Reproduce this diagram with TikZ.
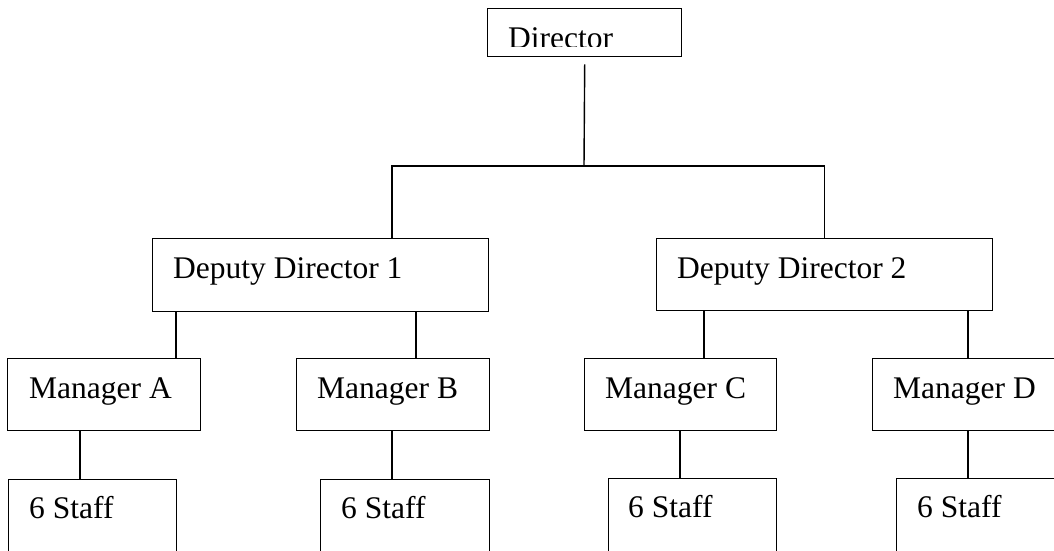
\documentclass[tikz,border=0pt]{standalone}
\usepackage{fontspec}
\setmainfont{Liberation Serif}
\begin{document}
\begin{tikzpicture}[x=1pt,y=-1pt,
  box/.style={draw,line width=1.4pt,rectangle,inner sep=0pt,anchor=north west},
  lbl/.style={inner sep=0pt,anchor=base west,font=\fontsize{31.5}{38}\selectfont},
  conn/.style={line width=1.4pt}]
\clip (0,0) rectangle (1054,550);
\fill[white] (0,0) rectangle (1054,550);
% boxes
\node[box,minimum width=194pt,minimum height=48pt] (dir) at (487,8) {};
\node[box,minimum width=336pt,minimum height=73pt] (dd1) at (152,238) {};
\node[box,minimum width=336pt,minimum height=72pt] (dd2) at (656,238) {};
\node[box,minimum width=193pt,minimum height=72pt] (mA) at (7,358) {};
\node[box,minimum width=193pt,minimum height=72pt] (mB) at (296,358) {};
\node[box,minimum width=192pt,minimum height=72pt] (mC) at (584,358) {};
\node[box,minimum width=193pt,minimum height=72pt] (mD) at (872,358) {};
\node[box,minimum width=168pt,minimum height=90pt] (sA) at (8,479) {};
\node[box,minimum width=169pt,minimum height=90pt] (sB) at (320,479) {};
\node[box,minimum width=168pt,minimum height=90pt] (sC) at (608,478) {};
\node[box,minimum width=168pt,minimum height=90pt] (sD) at (896,478) {};
% labels
\begin{scope}
\clip (0,0) rectangle (1054,46);
\node[lbl] (dirT) at ([shift={(21pt,-40pt)}]dir.north west) {Director};
\end{scope}
\node[lbl] (dd1T) at ([shift={(21pt,-40pt)}]dd1.north west) {Deputy Director 1};
\node[lbl] (dd2T) at ([shift={(21pt,-40pt)}]dd2.north west) {Deputy Director 2};
\node[lbl] (mAT) at ([shift={(22pt,-40pt)}]mA.north west) {Manager A};
\node[lbl] (mBT) at ([shift={(21pt,-40pt)}]mB.north west) {Manager B};
\node[lbl] (mCT) at ([shift={(21pt,-40pt)}]mC.north west) {Manager C};
\node[lbl] (mDT) at ([shift={(21pt,-40pt)}]mD.north west) {Manager D};
\node[lbl] (sAT) at ([shift={(21pt,-39pt)}]sA.north west) {6 Staff};
\node[lbl] (sBT) at ([shift={(21pt,-39pt)}]sB.north west) {6 Staff};
\node[lbl] (sCT) at ([shift={(20pt,-39pt)}]sC.north west) {6 Staff};
\node[lbl] (sDT) at ([shift={(21pt,-39pt)}]sD.north west) {6 Staff};
% connectors
\coordinate (hub) at (584,166);
\draw[conn] ([yshift=-7pt]dir.south) -- (hub);
\draw[conn] ([xshift=240pt]dd1.north west) -- ++(0,-72) -| (dd2.north);
\draw[conn] ([xshift=24pt]dd1.south west) -- ([xshift=169pt]mA.north west);
\draw[conn] ([xshift=264pt]dd1.south west) -- ([xshift=120pt]mB.north west);
\draw[conn] ([xshift=48pt]dd2.south west) -- ([xshift=120pt]mC.north west);
\draw[conn] ([xshift=312pt]dd2.south west) -- ([xshift=96pt]mD.north west);
\draw[conn] ([xshift=73pt]mA.south west) -- ([xshift=72pt]sA.north west);
\draw[conn] ([xshift=96pt]mB.south west) -- ([xshift=72pt]sB.north west);
\draw[conn] ([xshift=96pt]mC.south west) -- ([xshift=72pt]sC.north west);
\draw[conn] ([xshift=96pt]mD.south west) -- ([xshift=72pt]sD.north west);
\end{tikzpicture}
\end{document}
